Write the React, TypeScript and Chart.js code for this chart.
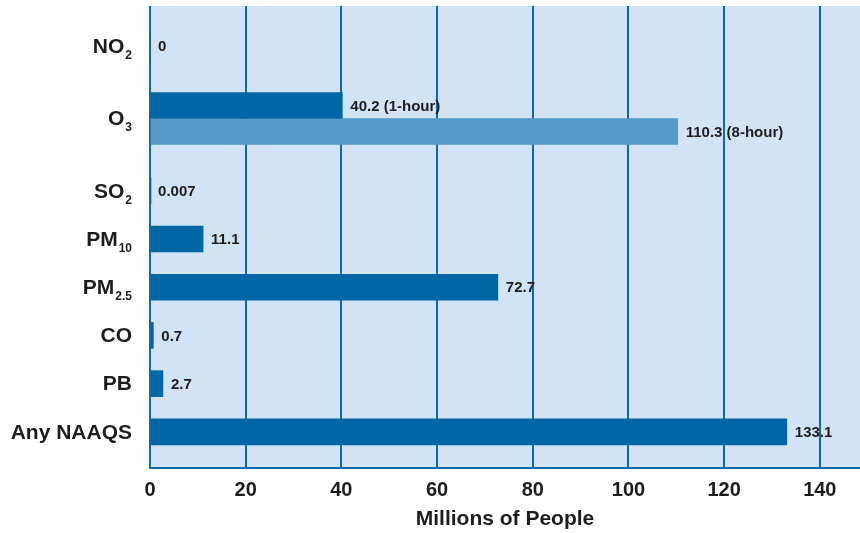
import React, { useEffect, useRef } from "react";
import { Chart, registerables } from "chart.js";

Chart.register(...registerables);

// ---- data ----
const categoryMain = ["NO", "O", "SO", "PM", "PM", "CO", "PB", "Any NAAQS"];
const categorySub = ["2", "3", "2", "10", "2.5", "", "", ""];
const primaryValues = [0, 40.2, 0.007, 11.1, 72.7, 0.7, 2.7, 133.1];
const primaryNotes = ["", "(1-hour)", "", "", "", "", "", ""];
const secondaryValues = [null, 110.3, null, null, null, null, null, null];
const secondaryNotes = ["", "(8-hour)", "", "", "", "", "", ""];
const xTicks = [0, 20, 40, 60, 80, 100, 120, 140];
const xMax = 148.4;
const xTitle = "Millions of People";

// half-row spacing before each category (layout only), plus trailing spacer
const halfRowsBefore = [1, 3, 3, 2, 2, 2, 2, 2];
const trailingHalfRows = 1;

const DARK = "#0066a6";
const LIGHT = "#5599c9";
const BG = "#d1e3f4";
const GRID = "#0c6aae";
const TEXT = "#1f1c1d";
const FONT = "'Liberation Sans', Arial, Helvetica, sans-serif";
const TOP_EXTRA = 4;

export default function App() {
  const ref = useRef<HTMLCanvasElement | null>(null);

  useEffect(() => {
    document.body.style.margin = "0";
    const canvas = ref.current!;
    const labels: string[] = [];
    const slotOf: number[] = [];
    categoryMain.forEach((name, i) => {
      const spacers = i === 0 ? halfRowsBefore[i] : halfRowsBefore[i] - 1;
      for (let k = 0; k < spacers; k++) labels.push("");
      slotOf.push(labels.length);
      labels.push(name + categorySub[i]);
    });
    for (let k = 0; k < trailingHalfRows; k++) labels.push("");

    const spread = (vals: (number | null)[]) => {
      const arr: (number | null)[] = labels.map(() => null);
      vals.forEach((v, i) => (arr[slotOf[i]] = v));
      return arr;
    };
    const notesFor = (notes: string[]) => {
      const arr: string[] = labels.map(() => "");
      notes.forEach((n, i) => (arr[slotOf[i]] = n));
      return arr;
    };
    const notesByDataset = [notesFor(primaryNotes), notesFor(secondaryNotes)];

    const bgPlugin = {
      id: "bg",
      beforeDraw(chart: any) {
        const { ctx, chartArea } = chart;
        ctx.save();
        ctx.fillStyle = BG;
        ctx.fillRect(
          chartArea.left,
          chartArea.top - TOP_EXTRA,
          chartArea.right - chartArea.left,
          chartArea.bottom - chartArea.top + TOP_EXTRA
        );
        // extend grid lines into the top margin strip
        const x = chart.scales.x;
        ctx.strokeStyle = GRID;
        ctx.lineWidth = 2;
        xTicks.forEach((v) => {
          const px = Math.round(x.getPixelForValue(v));
          ctx.beginPath();
          ctx.moveTo(px, chartArea.top - TOP_EXTRA);
          ctx.lineTo(px, chartArea.top);
          ctx.stroke();
        });
        ctx.restore();
      },
    };

    const valueLabels = {
      id: "valueLabels",
      afterDatasetsDraw(chart: any) {
        const ctx = chart.ctx;
        ctx.save();
        ctx.font = `bold 15px ${FONT}`;
        ctx.fillStyle = TEXT;
        ctx.textBaseline = "middle";
        ctx.textAlign = "left";
        chart.data.datasets.forEach((ds: any, di: number) => {
          const meta = chart.getDatasetMeta(di);
          meta.data.forEach((el: any, idx: number) => {
            const v = ds.data[idx];
            if (v === null || v === undefined) return;
            const note = notesByDataset[di][idx];
            const txt = String(v) + (note ? " " + note : "");
            ctx.fillText(txt, el.x + 8, el.y + 1);
          });
        });
        ctx.restore();
      },
    };

    const yLabels = {
      id: "yLabels",
      afterDraw(chart: any) {
        const ctx = chart.ctx;
        const y = chart.scales.y;
        const right = 132;
        ctx.save();
        ctx.fillStyle = TEXT;
        categoryMain.forEach((name, i) => {
          const py = y.getPixelForValue(slotOf[i]);
          const sub = categorySub[i];
          ctx.font = `bold 12px ${FONT}`;
          const sw = sub ? ctx.measureText(sub).width : 0;
          if (sub) {
            ctx.textAlign = "right";
            ctx.textBaseline = "alphabetic";
            ctx.fillText(sub, right, py + 13);
          }
          ctx.font = `bold 21px ${FONT}`;
          ctx.textAlign = "right";
          ctx.textBaseline = "middle";
          ctx.fillText(name, right - (sub ? sw + 1 : 0), py + 1);
        });
        ctx.restore();
      },
    };

    const chart = new Chart(canvas, {
      type: "bar",
      data: {
        labels,
        datasets: [
          {
            data: spread(primaryValues),
            backgroundColor: DARK,
            borderWidth: 0,
            barThickness: 26,
            skipNull: true,
          } as any,
          {
            data: spread(secondaryValues),
            backgroundColor: LIGHT,
            borderWidth: 0,
            barThickness: 26,
            skipNull: true,
          } as any,
        ],
      },
      options: {
        indexAxis: "y",
        responsive: false,
        animation: false,
        layout: { padding: { top: 6 + TOP_EXTRA, right: 0, left: 0, bottom: 0 } },
        plugins: { legend: { display: false }, tooltip: { enabled: false } },
        scales: {
          x: {
            type: "linear",
            position: "bottom",
            min: 0,
            max: xMax,
            ticks: {
              color: TEXT,
              font: { family: FONT, size: 20, weight: "bold" },
              padding: 10,
            },
            afterBuildTicks(scale: any) {
              scale.ticks = xTicks.map((v) => ({ value: v }));
            },
            afterFit(scale: any) {
              scale.height = 65;
            },
            grid: { color: GRID, lineWidth: 2, drawTicks: false },
            border: { display: true, color: GRID, width: 2 },
            title: {
              display: true,
              text: xTitle,
              color: TEXT,
              font: { family: FONT, size: 21, weight: "bold" },
              padding: { top: 0, bottom: 1 },
            },
          },
          y: {
            type: "category",
            offset: true,
            ticks: { display: false },
            grid: { display: false, drawTicks: false },
            border: { display: true, color: GRID, width: 2 },
            afterFit(scale: any) {
              scale.width = 150;
            },
          },
        },
      } as any,
      plugins: [bgPlugin, valueLabels, yLabels],
    });
    return () => chart.destroy();
  }, []);

  return (
    <div style={{ width: 860, height: 533 }}>
      <canvas ref={ref} width={860} height={533} style={{ display: "block" }} />
    </div>
  );
}
